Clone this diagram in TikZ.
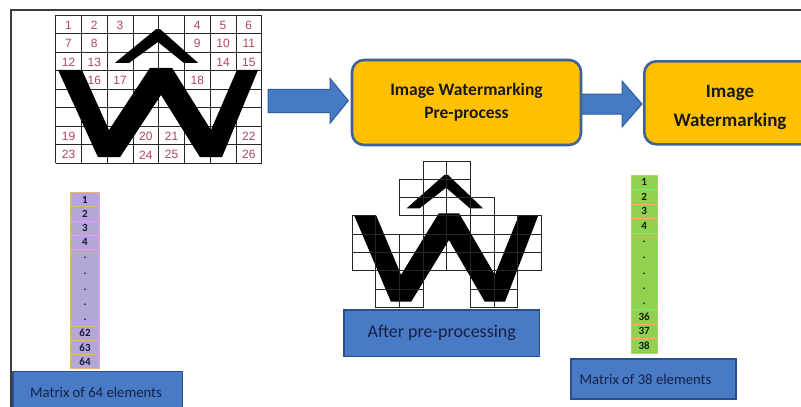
\documentclass[tikz,border=0pt]{standalone}
\usepackage{fontspec}
\setmainfont{Carlito}
\newfontfamily\arialf{Liberation Sans}
\definecolor{numred}{RGB}{178,70,92}
\definecolor{boxyellow}{RGB}{255,192,0}
\definecolor{boxedge}{RGB}{62,98,150}
\definecolor{blueboxfill}{RGB}{72,122,198}
\definecolor{blueboxedge}{RGB}{44,78,138}
\definecolor{bluetext}{RGB}{22,34,68}
\definecolor{arrowfill}{RGB}{70,122,196}
\definecolor{arrowedge}{RGB}{48,92,158}
\definecolor{lavender}{RGB}{180,167,216}
\definecolor{cellgreen}{RGB}{146,208,80}
\definecolor{celledge}{RGB}{238,178,118}
\definecolor{framegray}{RGB}{60,60,60}
\definecolor{purpletext}{RGB}{24,24,60}
\definecolor{greentext}{RGB}{16,30,10}
\newcommand\drawWglyph{%
  \fill[black] (0.09,2.97) -- (1.02,2.97) -- (2.07,6.22) -- (3.66,2.86) -- (4.52,2.86)
    -- (6.03,6.22) -- (7.04,2.97) -- (7.86,2.97) -- (6.46,7.68) -- (5.60,7.68)
    -- (4.09,4.32) -- (2.50,7.68) -- (1.64,7.68) -- cycle;
  \fill[black] (2.30,2.59) -- (3.90,0.76) -- (4.05,0.76) -- (5.53,2.59) -- (4.98,2.59)
    -- (3.97,1.46) -- (2.85,2.59) -- cycle;}
\tikzset{
  numlbl/.style={font=\arialf\fontsize{12}{12}\selectfont, text=numred, inner sep=0pt},
  gridline/.style={draw=black!85, line width=0.9pt},
  ybox/.style={draw=boxedge, line width=2.6pt, fill=boxyellow, rounded corners=12pt},
  bbox/.style={draw=blueboxedge, line width=1.5pt, fill=blueboxfill},
  btext/.style={text=bluetext, inner sep=0pt},
  colnum/.style={font=\bfseries\fontsize{11}{11}\selectfont, inner sep=0pt},
  cellline/.style={draw=celledge, line width=0.7pt},
  blockarrow/.style={fill=arrowfill, draw=arrowedge, line width=1pt, line join=miter},
}
\begin{document}
\begin{tikzpicture}[x=1pt,y=-1pt]
\useasboundingbox (0,0) rectangle (801,407);
\clip (0,0) rectangle (801,407);
\fill[white] (0,0) rectangle (801,407);
% frame
\draw[framegray, line width=1.2pt] (11,412) -- (11,10) -- (806,10);

% grid 1
\begin{scope}[shift={(55.7pt,-15pt)}, x=25.75pt, y=-18.5pt]
  \foreach \i in {0,...,8} {
    \draw[gridline] (\i,0) -- (\i,8);
    \draw[gridline] (0,\i) -- (8,\i);
  }
  \drawWglyph
  \foreach \n/\r/\c in {1/0/0,2/0/1,3/0/2,4/0/5,5/0/6,6/0/7,
                        7/1/0,8/1/1,9/1/5,10/1/6,11/1/7,
                        12/2/0,13/2/1,14/2/6,15/2/7,
                        16/3/1,17/3/2,18/3/5,
                        19/6/0,20/6/3,21/6/4,22/6/7,
                        23/7/0,24/7/3,25/7/4,26/7/7}
    \node[numlbl] (g\n) at (\c+0.5,\r+0.56) {\n};
\end{scope}

% grid 2 (after pre-processing)
\begin{scope}[shift={(352pt,-161pt)}, x=23.7pt, y=-18.3pt]
  \drawWglyph
  \foreach \c in {3,4} \draw[gridline] (\c,0) rectangle ++(1,1);
  \foreach \c in {2,3,4} \draw[gridline] (\c,1) rectangle ++(1,1);
  \foreach \c in {2,3,4,5} \draw[gridline] (\c,2) rectangle ++(1,1);
  \foreach \c in {0,3,4,6,7} \draw[gridline] (\c,3) rectangle ++(1,1);
  \foreach \c in {0,...,7} \draw[gridline] (\c,4) rectangle ++(1,1);
  \foreach \c in {0,...,7} \draw[gridline] (\c,5) rectangle ++(1,1);
  \foreach \c in {1,2,5,6} \draw[gridline] (\c,6) rectangle ++(1,1);
  \foreach \c in {1,2,5,6} \draw[gridline] (\c,7) rectangle ++(1,1);
\end{scope}

% arrows
\draw[blockarrow] (268,89.3) -- (330,89.3) -- (330,78.3) -- (348.3,100.7) -- (330,123.3) -- (330,112.7) -- (268,112.7) -- cycle;
\draw[blockarrow] (578,94) -- (622,94) -- (622,81) -- (642,104) -- (622,127) -- (622,114) -- (578,114) -- cycle;

% yellow boxes
\node[ybox, minimum width=229pt, minimum height=85pt, align=center, text=black!90,
      font=\bfseries\fontsize{17.5}{23}\selectfont] (pre) at (466.5,102.5)
      {Image Watermarking\\Pre-process};
\node[ybox, anchor=north west, minimum width=174pt, minimum height=83pt] (wm) at (643,60) {};
\node[align=center, inner sep=0pt, text=black!90, font=\bfseries\fontsize{19}{29}\selectfont]
      (wmt) at (730,107) {Image\\Watermarking};

% purple column
\fill[lavender] (70.7,192.5) rectangle (99.3,368.6);
\foreach \y in {206.7,220.9,235.1,249.3,326,340.2,354.4}
  \draw[cellline] (70.7,\y) -- (99.3,\y);
\draw[cellline] (70.7,192.5) rectangle (99.3,368.6);
\foreach \t/\y [count=\k] in {1/199.6,2/213.8,3/228,4/242.2,./258,./274,./290,./305,./320,62/333.1,63/347.3,64/361.5}
  \node[colnum, text=purpletext] (p\k) at (85,\y) {\t};

% green column
\fill[cellgreen] (631,175) rectangle (657.3,353);
\foreach \y in {189.5,204,218.5,233,309.5,324,338.5}
  \draw[cellline] (631,\y) -- (657.3,\y);
\draw[cellline] (631,175) rectangle (657.3,353);
\foreach \t/\y [count=\k] in {1/182.25,2/196.75,3/211.25,4/225.75,./242,./257.5,./273.5,./289,./304,36/316.75,37/331.25,38/345.75}
  \node[colnum, text=greentext] (q\k) at (644.2,\y) {\t};

% blue boxes
\node[bbox, anchor=north west, minimum width=169.7pt, minimum height=45pt] (m64) at (12,370.7) {};
\node[btext, font=\fontsize{14.7}{15}\selectfont] (m64t) at (96,392.7) {Matrix of 64 elements};
\node[bbox, minimum width=195.3pt, minimum height=46.7pt, text=bluetext,
      font=\fontsize{18}{18}\selectfont] (after) at (441.7,333.3) {After pre-processing};
\node[bbox, anchor=north west, minimum width=165pt, minimum height=40pt] (m38) at (570,358) {};
\node[btext, font=\fontsize{14.7}{15}\selectfont] (m38t) at (645.5,379) {Matrix of 38 elements};
\end{tikzpicture}
\end{document}
